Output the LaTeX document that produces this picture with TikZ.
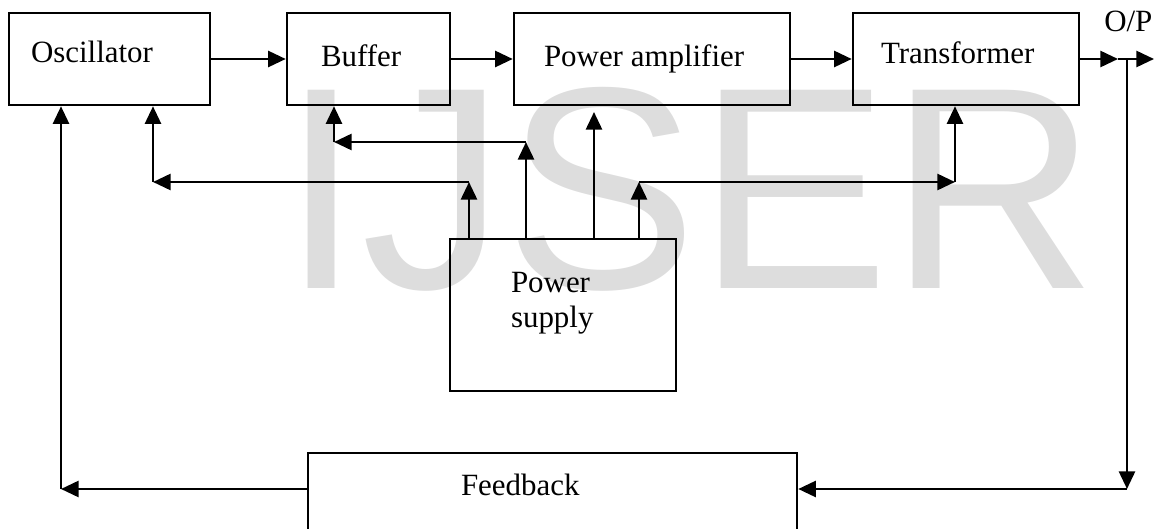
\documentclass[tikz,border=0pt]{standalone}
\usepackage{fontspec}
\setmainfont{Liberation Serif}
\newfontfamily\marksans{Liberation Sans}
\usepackage{tikz}
\usetikzlibrary{arrows.meta,positioning,calc}
\definecolor{inkline}{HTML}{000000}
\definecolor{markgray}{HTML}{DDDDDD}

\begin{document}
\begin{tikzpicture}[
    every node/.style={font=\fontsize{22}{25}\selectfont, inner sep=0pt},
    block/.style={draw=inkline, line width=1.8pt, minimum width=#1, minimum height=2.3cm},
    lbl/.style={anchor=base west, align=left},
    flow/.style={-{Triangle[length=4.4mm, width=4mm]}, line width=1.8pt, color=inkline}
]
    \useasboundingbox (0,0) rectangle (28.85,-13.225);

    % Watermark behind the blocks
    \node[anchor=base west, text=markgray, font=\marksans\fontsize{205}{205}\selectfont] (mark) at (7.025,-7.225) {IJSER};

    % Signal chain
    \node[block=5.025cm, label={[lbl, shift={(0.575,-1.275)}]north west:Oscillator}] (osc) at (2.7375,-1.475) {};
    \node[block=4.075cm, label={[lbl, shift={(0.875,-1.375)}]north west:Buffer}] (buf) at (9.2125,-1.475) {};
    \node[block=6.9cm, label={[lbl, shift={(0.775,-1.375)}]north west:Power amplifier}] (pa) at (16.3,-1.475) {};
    \node[block=5.65cm, label={[lbl, shift={(0.725,-1.3)}]north west:Transformer}] (tr) at (24.15,-1.475) {};

    % Supply and feedback blocks
    \node[block=5.65cm, minimum height=3.8cm, label={[lbl, shift={(1.55,-2.25)}]north west:{Power\\supply}}] (ps) at (14.075,-7.875) {};
    \node[block=12.225cm, minimum height=2.675cm, label={[lbl, shift={(3.85,-1.1)}]north west:Feedback}] (fb) at (13.8125,-12.6625) {};

    % Output and feedback loop
    \coordinate (split) at (27.95,-1.475);
    \coordinate (outend) at (28.85,-1.475);
    \coordinate (tap) at (28.175,-1.475);
    \coordinate (fbin) at (28.175,-12.225);
    \coordinate (fbout) at (1.525,-12.225);
    \node[lbl] (op) at (27.6,-0.8) {O/P};

    \draw[flow] (osc.east) -- (buf.west);
    \draw[flow] (buf.east) -- (pa.west);
    \draw[flow] (pa.east) -- (tr.west);
    \draw[flow] (tr.east) -- (split);
    \draw[flow] (split) -- (outend);
    \draw[flow] (tap) -- (fbin);
    \draw[flow] (fbin) -- (fbin -| fb.east);
    \draw[flow] (fbin -| fb.west) -- (fbout);
    \draw[flow] (fbout) -- (fbout |- osc.south);

    % Supply rails
    \coordinate (feedosc) at (11.725,-4.55);
    \coordinate (feedbuf) at (13.15,-3.55);
    \coordinate (feedpa) at (14.85,-2.8);
    \coordinate (feedtr) at (15.975,-4.55);
    \coordinate (oscin) at (3.825,-4.55);
    \coordinate (bufin) at (8.35,-3.55);
    \coordinate (trin) at (23.875,-4.55);

    \draw[flow] (feedosc |- ps.north) -- (feedosc);
    \draw[flow] (feedosc) -- (oscin);
    \draw[flow] (oscin) -- (oscin |- osc.south);

    \draw[flow] (feedbuf |- ps.north) -- (feedbuf);
    \draw[flow] (feedbuf) -- (bufin);
    \draw[flow] (bufin) -- (bufin |- buf.south);

    \draw[flow] (feedpa |- ps.north) -- (feedpa);

    \draw[flow] (feedtr |- ps.north) -- (feedtr);
    \draw[flow] (feedtr) -- (trin);
    \draw[flow] (trin) -- (trin |- tr.south);
\end{tikzpicture}
\end{document}
